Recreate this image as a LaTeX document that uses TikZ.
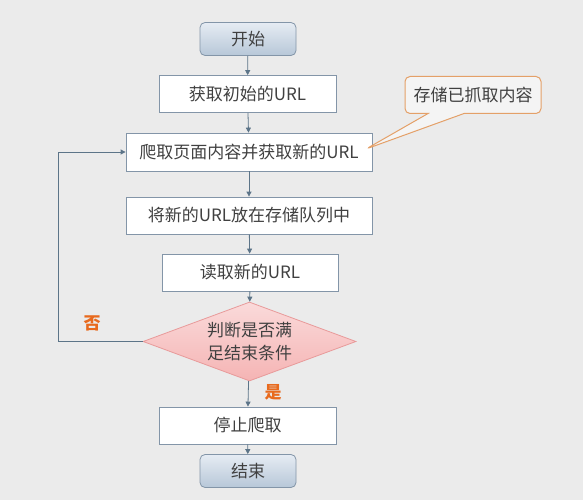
\documentclass[tikz,border=0pt]{standalone}
\usepackage{fontspec}
\setmainfont{Noto Sans CJK SC}
\usepackage{tikz}
\usetikzlibrary{arrows.meta}
\usetikzlibrary{shapes.geometric}
\usetikzlibrary{shapes.callouts}

\definecolor{bgcol}{HTML}{EBEBEB}
\definecolor{linecol}{HTML}{5C7488}
\definecolor{boxcol}{HTML}{8395A8}
\definecolor{txtcol}{HTML}{404040}
\definecolor{orangecol}{HTML}{E86A1E}
\definecolor{calloutcol}{HTML}{E4A068}
\definecolor{calloutfill}{HTML}{F4F4F4}
\definecolor{endtop}{HTML}{E6ECF3}
\definecolor{endbot}{HTML}{B7C7D8}
\definecolor{diadraw}{HTML}{E89A9A}
\definecolor{diatop}{HTML}{FADADA}
\definecolor{diabot}{HTML}{F5B4B4}

\tikzset{
    every node/.style={text=txtcol, font=\fontsize{17}{20}\selectfont},
    stepbox/.style={draw=boxcol, fill=white, line width=0.8pt, minimum height=37pt, inner sep=0pt},
    endbox/.style={draw=boxcol, rounded corners=5pt, top color=endtop, bottom color=endbot,
        minimum width=96pt, minimum height=33pt, line width=0.8pt},
    flow/.style={draw=linecol, line width=0.8pt, -{Triangle[length=5pt,width=5pt]}},
    yesno/.style={text=orangecol, font=\fontsize{17}{20}\selectfont\bfseries}
}

\begin{document}
\begin{tikzpicture}[x=1pt, y=-1pt]
    \fill[bgcol] (0,0) rectangle (583,500);
    \useasboundingbox (0,0) rectangle (583,500);

    \node[endbox] (start) at (248,39) {开始};
    \node[stepbox, minimum width=177pt] (init) at (247.5,94) {获取初始的URL};
    \node[stepbox, minimum width=246pt, minimum height=38pt] (crawl) at (249,152) {爬取页面内容并获取新的URL};
    \node[stepbox, minimum width=246pt] (store) at (249,215.5) {将新的URL放在存储队列中};
    \node[stepbox, minimum width=176pt] (read) at (250,272.5) {读取新的URL};
    \node[diamond, aspect=2.7, draw=diadraw, top color=diatop, bottom color=diabot, line width=0.8pt,
        minimum width=213pt, minimum height=79pt, inner sep=0pt, align=center,
        font=\fontsize{17}{23}\selectfont] (check) at (249.5,341.5) {判断是否满\\足结束条件};
    \node[stepbox, minimum width=177pt] (stop) at (247.5,425.5) {停止爬取};
    \node[endbox] (finish) at (248,471) {结束};

    % callout
    \node[rectangle callout, draw=calloutcol, fill=calloutfill, rounded corners=5pt, line width=1pt,
        minimum width=136pt, minimum height=37pt, callout absolute pointer={(366,149)},
        callout pointer width=36pt] (note) at (473,95) {存储已抓取内容};

    \draw[flow] (start) -- (init);
    \draw[flow] (init) -- (crawl);
    \draw[flow] (crawl) -- (store);
    \draw[flow] (store) -- (read);
    \draw[flow] (read) -- (check);
    \draw[flow] (check) -- (stop);
    \draw[flow] (stop) -- (finish);
    \coordinate (loopbot) at (58,341.5);
    \coordinate (looptop) at (58,152);
    \draw[flow] (check.west) -- (loopbot) -- (looptop) -- (crawl.west);

    \node[yesno] (no) at (92,323) {否};
    \node[yesno] (yes) at (273,392) {是};
\end{tikzpicture}
\end{document}
